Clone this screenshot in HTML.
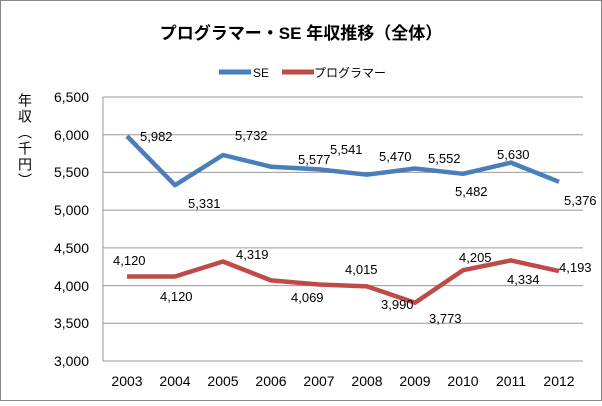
<!DOCTYPE html><html><head><meta charset="utf-8"><style>body{margin:0;background:#fff}</style></head><body>
<svg width="602" height="401" xmlns="http://www.w3.org/2000/svg" font-family="Liberation Sans, Noto Sans CJK JP, sans-serif">
<rect x="0.5" y="0.5" width="601" height="400" fill="#fff" stroke="#888"/>
<text x="301" y="39" text-anchor="middle" font-size="17" font-weight="bold">プログラマー・SE 年収推移（全体）</text>
<line x1="219" y1="72" x2="251" y2="72" stroke="#4a7ebb" stroke-width="5"/>
<text x="253" y="77" font-size="12">SE</text>
<line x1="282" y1="72" x2="314" y2="72" stroke="#be4b48" stroke-width="5"/>
<text x="314" y="77" font-size="12">プログラマー</text>
<text x="25" y="93" font-size="14" style="writing-mode:vertical-rl;letter-spacing:2px">年収（千円）</text>
<g stroke="#999" stroke-width="1">
<line x1="103" y1="97" x2="583" y2="97"/><line x1="103" y1="134.7" x2="583" y2="134.7"/><line x1="103" y1="172.4" x2="583" y2="172.4"/><line x1="103" y1="210.1" x2="583" y2="210.1"/><line x1="103" y1="247.9" x2="583" y2="247.9"/><line x1="103" y1="285.6" x2="583" y2="285.6"/><line x1="103" y1="323.3" x2="583" y2="323.3"/><line x1="103" y1="361" x2="583" y2="361"/>
<line x1="103" y1="97" x2="103" y2="361"/>
</g>
<g font-size="14" text-anchor="end">
<text x="89" y="102">6,500</text><text x="89" y="140">6,000</text><text x="89" y="177">5,500</text><text x="89" y="215">5,000</text><text x="89" y="253">4,500</text><text x="89" y="291">4,000</text><text x="89" y="328">3,500</text><text x="89" y="366">3,000</text>
</g>
<g font-size="14" text-anchor="middle">
<text x="127" y="386">2003</text><text x="175" y="386">2004</text><text x="223" y="386">2005</text><text x="271" y="386">2006</text><text x="319" y="386">2007</text><text x="367" y="386">2008</text><text x="415" y="386">2009</text><text x="463" y="386">2010</text><text x="511" y="386">2011</text><text x="559" y="386">2012</text>
</g>
<polyline fill="none" stroke="#4a7ebb" stroke-width="4.5" stroke-linejoin="round" points="127,136.1 175,185.2 223,155.0 271,166.7 319,169.4 367,174.7 415,168.5 463,173.8 511,162.6 559,181.8"/>
<polyline fill="none" stroke="#be4b48" stroke-width="4.5" stroke-linejoin="round" points="127,276.5 175,276.5 223,261.5 271,280.4 319,284.5 367,286.4 415,302.7 463,270.2 511,260.4 559,271.1"/>
<g font-size="13">
<text x="140" y="141">5,982</text><text x="188" y="208">5,331</text><text x="235" y="140">5,732</text><text x="298" y="164">5,577</text><text x="330" y="154">5,541</text><text x="379" y="161">5,470</text><text x="428" y="163">5,552</text><text x="455" y="196">5,482</text><text x="497" y="159">5,630</text><text x="564" y="205">5,376</text>
<text x="113" y="265">4,120</text><text x="160" y="301">4,120</text><text x="236" y="259">4,319</text><text x="291" y="302">4,069</text><text x="345" y="274">4,015</text><text x="381" y="309">3,990</text><text x="429" y="323">3,773</text><text x="459" y="262">4,205</text><text x="507" y="284">4,334</text><text x="559" y="272">4,193</text>
</g>
</svg>
</body></html>
